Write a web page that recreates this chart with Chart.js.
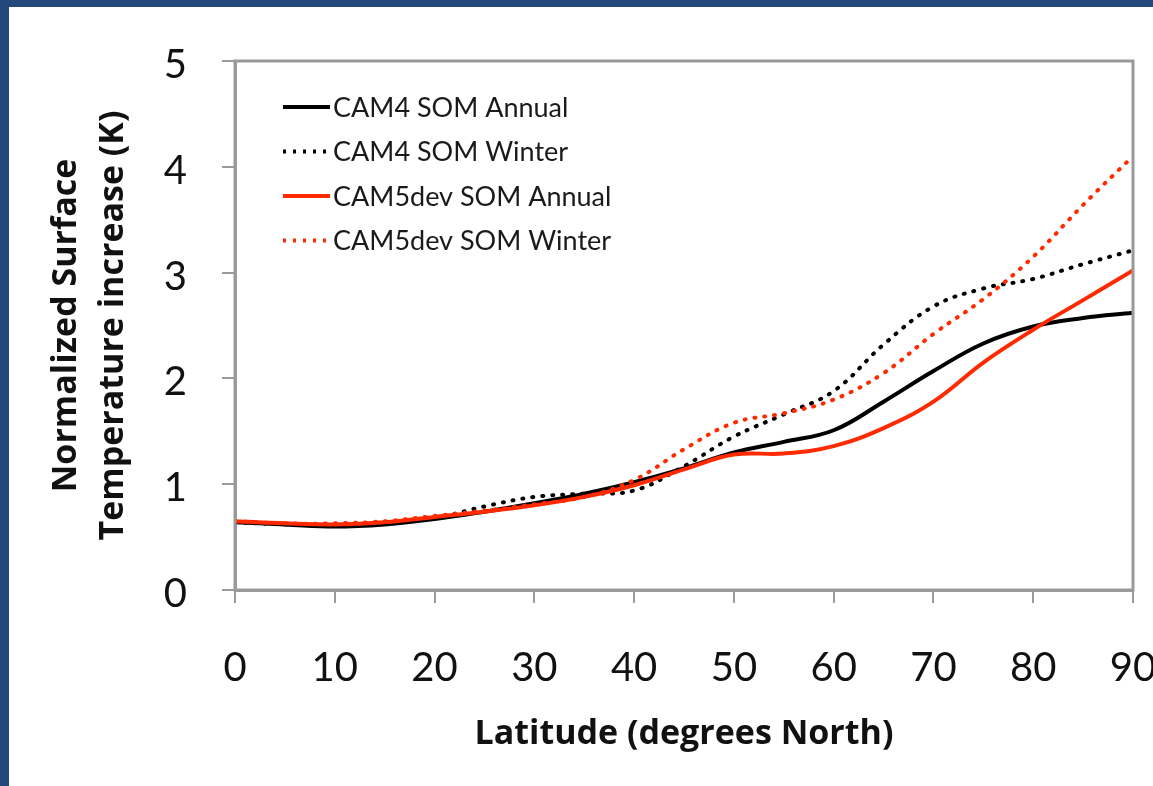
<!DOCTYPE html>
<html>
<head>
<meta charset="utf-8">
<script src="https://cdn.jsdelivr.net/npm/chart.js@4.4.1/dist/chart.umd.min.js"></script>
<style>
  html, body { margin: 0; padding: 0; background: #fff; overflow: hidden; }
  #frame {
    position: absolute; left: 0; top: 0;
    width: 1144px; height: 779px;
    border-top: 7px solid #23497c;
    border-left: 9px solid #23497c;
  }
</style>
</head>
<body>
<div id="frame"><canvas id="myChart" width="1144" height="779"></canvas></div>
<script>
// latitude (degrees North)
const latitude = [0, 5, 10, 15, 20, 25, 30, 35, 40, 45, 50, 55, 60, 65, 70, 75, 80, 85, 90];

// normalized surface temperature increase (K)
const cam4Annual = [0.64, 0.62, 0.60, 0.62, 0.67, 0.74, 0.82, 0.91, 1.02, 1.15, 1.30, 1.40, 1.51, 1.78, 2.07, 2.33, 2.49, 2.57, 2.62];
const cam4Winter = [0.64, 0.62, 0.61, 0.63, 0.68, 0.79, 0.88, 0.91, 0.94, 1.17, 1.45, 1.66, 1.88, 2.32, 2.68, 2.85, 2.94, 3.08, 3.21];
const cam5Annual = [0.65, 0.63, 0.62, 0.64, 0.69, 0.74, 0.80, 0.88, 0.99, 1.14, 1.28, 1.29, 1.36, 1.53, 1.78, 2.15, 2.46, 2.74, 3.02];
const cam5Winter = [0.65, 0.63, 0.63, 0.65, 0.70, 0.75, 0.81, 0.88, 1.04, 1.33, 1.58, 1.67, 1.80, 2.05, 2.42, 2.75, 3.15, 3.64, 4.10];

const seriesNames = ["CAM4 SOM Annual", "CAM4 SOM Winter", "CAM5dev SOM Annual", "CAM5dev SOM Winter"];
const xTicks = [0, 10, 20, 30, 40, 50, 60, 70, 80, 90];
const yTicks = [0, 1, 2, 3, 4, 5];

const RED = "#ff2a00";
const AXIS = "#9a9a9a";
const FONT = "Lato, 'Open Sans', sans-serif";
const TITLE_FONT = "'Open Sans', Lato, sans-serif";

function points(values) {
  return values.map((v, i) => ({ x: latitude[i], y: v }));
}

function lineSet(label, values, color, dotted, order) {
  return {
    label: label,
    data: points(values),
    borderColor: color,
    backgroundColor: color,
    borderWidth: 4,
    borderDash: dotted ? [1, 9] : [],
    borderCapStyle: dotted ? "round" : "butt",
    pointRadius: 0,
    tension: 0.4,
    fill: false,
    order: order,
  };
}

// box around the plot area
const plotBorder = {
  id: "plotBorder",
  afterDraw(chart) {
    const { ctx, chartArea: a } = chart;
    ctx.save();
    ctx.strokeStyle = AXIS;
    ctx.lineWidth = 3;
    ctx.strokeRect(a.left, a.top, a.right - a.left, a.bottom - a.top);
    ctx.restore();
  },
};

// legend drawn inside the plot, top left
const insideLegend = {
  id: "insideLegend",
  afterDraw(chart) {
    const { ctx, chartArea: a } = chart;
    ctx.save();
    ctx.font = "27px " + FONT;
    ctx.textBaseline = "middle";
    ctx.textAlign = "left";
    chart.data.datasets.forEach((ds, i) => {
      const y = a.top + 46 + i * 44.5;
      const x0 = a.left + 48;
      ctx.strokeStyle = ds.borderColor;
      ctx.lineWidth = 4;
      ctx.setLineDash(ds.borderDash.length ? [3, 7] : []);
      ctx.lineCap = "butt";
      ctx.beginPath();
      ctx.moveTo(x0, y);
      ctx.lineTo(x0 + 47, y);
      ctx.stroke();
      ctx.setLineDash([]);
      ctx.fillStyle = "#1a1a1a";
      ctx.fillText(ds.label, x0 + 50, y + 1);
    });
    ctx.restore();
  },
};

const ctx = document.getElementById("myChart").getContext("2d");

new Chart(ctx, {
  type: "line",
  data: {
    datasets: [
      lineSet(seriesNames[0], cam4Annual, "#000000", false, 4),
      lineSet(seriesNames[1], cam4Winter, "#000000", true, 3),
      lineSet(seriesNames[2], cam5Annual, RED, false, 2),
      lineSet(seriesNames[3], cam5Winter, RED, true, 1),
    ],
  },
  options: {
    responsive: false,
    animation: false,
    layout: { padding: { top: 54, right: 20, bottom: 0, left: 0 } },
    plugins: {
      legend: { display: false },
      tooltip: { enabled: false },
    },
    scales: {
      x: {
        type: "linear",
        min: 0,
        max: 90,
        afterBuildTicks: (scale) => {
          scale.ticks = xTicks.map((v) => ({ value: v }));
        },
        afterFit: (scale) => {
          scale.height = 196;
          scale.paddingLeft = 0;
          scale.paddingRight = 0;
        },
        grid: { drawOnChartArea: false, drawTicks: true, tickLength: 13, color: AXIS, lineWidth: 2 },
        border: { display: true, color: AXIS, width: 3 },
        ticks: { color: "#111", font: { family: FONT, size: 40 }, padding: 41, maxRotation: 0, autoSkip: false },
        title: {
          display: true,
          text: "Latitude (degrees North)",
          color: "#111",
          font: { family: TITLE_FONT, size: 34, weight: "bold" },
          padding: { top: 0, bottom: 31 },
        },
      },
      y: {
        min: 0,
        max: 5,
        afterBuildTicks: (scale) => {
          scale.ticks = yTicks.map((v) => ({ value: v }));
        },
        afterFit: (scale) => {
          scale.width = 226;
          scale.paddingTop = 0;
          scale.paddingBottom = 0;
        },
        grid: { drawOnChartArea: false, drawTicks: true, tickLength: 13, color: AXIS, lineWidth: 2 },
        border: { display: true, color: AXIS, width: 3 },
        ticks: { color: "#111", font: { family: FONT, size: 40 }, padding: 35, labelOffset: 4 },
        title: {
          display: true,
          text: ["Normalized Surface", "Temperature increase (K)"],
          color: "#111",
          font: { family: TITLE_FONT, size: 34, weight: "bold", lineHeight: 1.38 },
          padding: { top: 34, bottom: 0 },
        },
      },
    },
  },
  plugins: [plotBorder, insideLegend],
});
</script>
</body>
</html>
